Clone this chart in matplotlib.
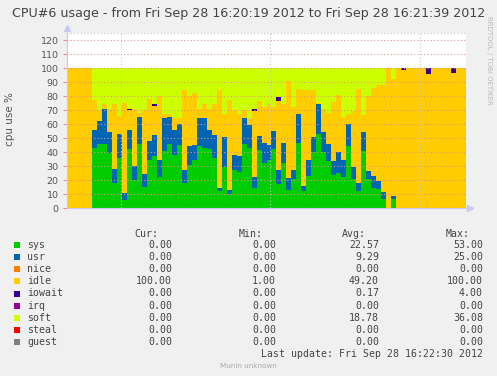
import matplotlib
matplotlib.use("Agg")
import matplotlib.pyplot as plt
from matplotlib.patches import Rectangle
import numpy as np

# ---------------------------------------------- data --------------------------------------------------------------#

W, H = 497, 376

title = "CPU#6 usage - from Fri Sep 28 16:20:19 2012 to Fri Sep 28 16:21:39 2012"

# one sample per second, starting 16:20:19
sys_vals = [0, 0, 0, 0, 0, 43, 46, 46, 39, 18, 36, 6, 42, 20, 46, 15, 34, 37, 22, 41,
            46, 38, 45, 18, 31, 34, 44, 43, 42, 36, 12, 29, 10, 27, 26, 46, 43, 14, 41.5, 32,
            34, 42, 17, 32, 13, 20.5, 46.5, 12, 23, 40, 53, 40, 33.5, 23.5, 25, 22, 44, 20.5, 12, 40.5,
            20.5, 14.5, 13.5, 6.5, 0, 6.5, 0, 0, 0, 0, 0, 0, 0, 0, 0, 0, 0, 0, 0, 0]
usr_vals = [0, 0, 0, 0, 0, 13, 16, 25, 15, 10, 17, 5, 14, 10, 19, 9, 14, 15, 12, 23,
            19, 18, 15, 9, 13, 11, 20, 21, 14, 16, 2, 22, 3, 11, 11, 18, 16, 8, 10, 14.5,
            11, 13, 10, 14.5, 8.5, 6.5, 20.5, 4, 11.5, 11, 21, 14, 12, 10, 15, 12, 16, 9, 6, 14,
            6, 8.5, 6, 5, 0, 2, 0, 0, 0, 0, 0, 0, 0, 0, 0, 0, 0, 0, 0, 0]
nice_vals = [0] * 80
idle_vals = [100, 100, 100, 100, 100, 21, 8, 3, 17, 46, 13, 64, 14, 41, 3, 46, 30, 21, 46, 3,
             2, 8, 4, 57, 36, 37, 7, 10, 15, 22, 70, 16, 64, 32, 30, 6, 5, 47.5, 25, 25.5,
             29, 17, 49.5, 27.5, 69.5, 45.5, 18, 68.5, 49.5, 33, 1, 17, 22.5, 42.5, 41, 31, 7, 39.5, 67, 12,
             53.5, 63, 68.5, 76.5, 100, 83.5, 100, 98.5, 100, 100, 100, 100, 96, 100, 100, 100, 100, 96.5, 100, 100]
iowait_vals = [0, 0, 0, 0, 0, 0, 0, 0, 0, 0, 0, 0, 1, 0, 0, 0, 0, 1.5, 0, 0,
               0, 0, 0, 0, 0, 0, 0, 0, 0, 0, 0, 0, 0, 0, 0, 0, 0, 1.5, 0, 0,
               0, 0, 3, 0, 0, 0, 0, 0, 0, 0, 0, 0, 0, 0, 0, 0, 0, 0, 0, 0,
               0, 0, 0, 0, 0, 0, 0, 1.5, 0, 0, 0, 0, 4, 0, 0, 0, 0, 3.5, 0, 0]
irq_vals = [0] * 80
soft_vals = [0, 0, 0, 0, 0, 23, 30, 26, 29, 26, 34, 25, 29, 29, 32, 30, 22, 25.5, 20, 33,
             33, 36, 36, 16, 20, 18, 29, 26, 29, 26, 16, 33, 23, 30, 33, 30, 36, 29, 23.5, 28,
             26, 28, 20.5, 26, 9, 27.5, 15, 15.5, 16, 16, 25, 29, 32, 24, 19, 35, 33, 31, 15, 33.5,
             20, 14, 12, 12, 0, 8, 0, 0, 0, 0, 0, 0, 0, 0, 0, 0, 0, 0, 0, 0]

names = ["sys", "usr", "nice", "idle", "iowait", "irq", "soft", "steal", "guest"]
colors = ["#00CC00", "#0066B3", "#FF8000", "#FFCC00", "#330099", "#990099", "#CCFF00", "#FF0000", "#808080"]
cur = ["0.00", "0.00", "0.00", "100.00", "0.00", "0.00", "0.00", "0.00", "0.00"]
mins = ["0.00", "0.00", "0.00", "1.00", "0.00", "0.00", "0.00", "0.00", "0.00"]
avgs = ["22.57", "9.29", "0.00", "49.20", "0.17", "0.00", "18.78", "0.00", "0.00"]
maxs = ["53.00", "25.00", "0.00", "100.00", "4.00", "0.00", "36.08", "0.00", "0.00"]

yticks = list(range(0, 121, 10))
time_grid = [10.8, 40.8, 70.8]  # 16:20:30, 16:21:00, 16:21:30
last_update = "Last update: Fri Sep 28 16:22:30 2012"


def fx(x):
    return x / W


def fy(y):
    return 1 - y / H


# ---------------------------------------------- figure --------------------------------------------------------------#

fig = plt.figure(figsize=(W / 100, H / 100), dpi=100, facecolor="#F0F0F0")
ax = fig.add_axes([fx(67), fy(208), (466 - 67) / W, (208 - 33) / H])
ax.set_facecolor("white")

series = [sys_vals, usr_vals, nice_vals, idle_vals, iowait_vals, irq_vals, soft_vals]
t = np.arange(len(sys_vals) + 1)
stack = [np.append(s, s[-1]) for s in series]
ax.stackplot(t, *stack, colors=colors[:len(series)], step="post", linewidth=0, zorder=1)

ax.set_xlim(0, 80)
ax.set_ylim(0, 125)

# grid on top of the data, like rrdtool
for v in yticks:
    ax.axhline(v, color="#E89090", linestyle=(0, (1, 2)), linewidth=0.8, zorder=3)
ax.axhline(125, color="#C0C0C0", linestyle=(0, (1, 2)), linewidth=0.8, zorder=3)
for v in time_grid:
    ax.axvline(v, color="#C8C8C8", linestyle=(0, (1, 2)), linewidth=0.8, zorder=3)

ax.set_yticks(yticks)
ax.set_yticklabels([str(v) for v in yticks], fontsize=6.8, color="#555555")
ax.tick_params(axis="y", length=3, color="#E89090", pad=3)
ax.set_xticks([])
for side in ["top", "right"]:
    ax.spines[side].set_visible(False)
for side in ["left", "bottom"]:
    ax.spines[side].set_color("#C8C8F0")
    ax.spines[side].set_zorder(4)
ax.plot([0], [1.03], marker="^", color="#C8C8F0", markersize=4, transform=ax.transAxes, clip_on=False)
ax.plot([1.01], [0], marker=">", color="#C8C8F0", markersize=4, transform=ax.transAxes, clip_on=False)

# texts around the plot
fig.text(fx(248.5), fy(13), title, ha="center", va="center", fontsize=9.1, color="#444444")
fig.text(fx(10), fy(119), "cpu use %", rotation=90, ha="center", va="center", fontsize=7.5, color="#555555")
fig.text(fx(489), fy(16), "RRDTOOL / TOBI OETIKER", rotation=270, ha="center", va="top",
         fontsize=5, color="#BBBBBB")

# legend table
mono = "DejaVu Sans Mono"
fs = 7.1
head_y = 234
fig.text(fx(158), fy(head_y), "Cur:", ha="right", va="center", family=mono, fontsize=fs, color="#444444")
fig.text(fx(263), fy(head_y), "Min:", ha="right", va="center", family=mono, fontsize=fs, color="#444444")
fig.text(fx(366), fy(head_y), "Avg:", ha="right", va="center", family=mono, fontsize=fs, color="#444444")
fig.text(fx(470), fy(head_y), "Max:", ha="right", va="center", family=mono, fontsize=fs, color="#444444")

for i, name in enumerate(names):
    y = 245.3 + i * 12.05
    fig.patches.append(Rectangle((fx(14), fy(y + 3)), 6 / W, 6 / H, transform=fig.transFigure,
                                 facecolor=colors[i], edgecolor="none"))
    fig.text(fx(27), fy(y), name, ha="left", va="center", family=mono, fontsize=fs, color="#444444")
    fig.text(fx(172), fy(y), cur[i], ha="right", va="center", family=mono, fontsize=fs, color="#444444")
    fig.text(fx(276), fy(y), mins[i], ha="right", va="center", family=mono, fontsize=fs, color="#444444")
    fig.text(fx(379), fy(y), avgs[i], ha="right", va="center", family=mono, fontsize=fs, color="#444444")
    fig.text(fx(483), fy(y), maxs[i], ha="right", va="center", family=mono, fontsize=fs, color="#444444")

fig.text(fx(483), fy(353.7), last_update, ha="right", va="center", family=mono, fontsize=fs, color="#444444")
fig.text(fx(248), fy(366), "Munin unknown", ha="center", va="center", fontsize=5.2, color="#AAAAAA")

fig.savefig("out.png", dpi=100, facecolor=fig.get_facecolor())
